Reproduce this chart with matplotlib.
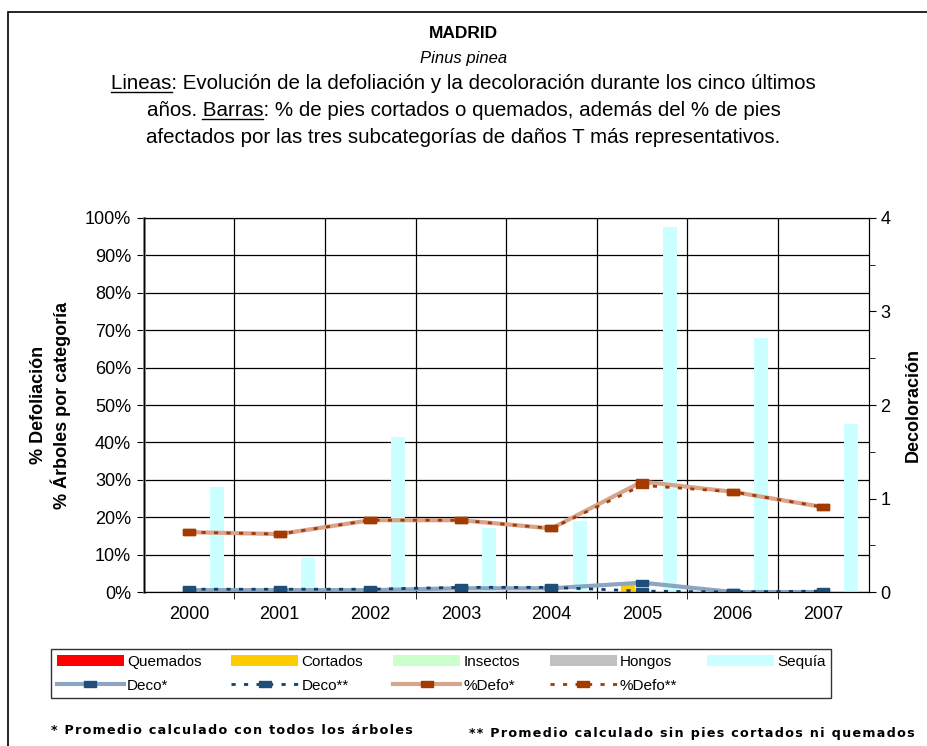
import numpy as np
import matplotlib
matplotlib.use("Agg")
import matplotlib.pyplot as plt
from matplotlib.patches import Rectangle
from matplotlib.lines import Line2D

plt.rcParams['font.family'] = ['Liberation Sans', 'DejaVu Sans']

# data
years = ['2000', '2001', '2002', '2003', '2004', '2005', '2006', '2007']
quemados = [0, 0, 0, 0, 0, 0, 0, 0]
cortados = [0, 0, 0, 0, 0, 2.2, 0, 0]
insectos = [0, 0, 0, 0, 2.0, 0, 0, 0]
hongos = [0, 0, 0, 0, 0, 0, 0, 0]
sequia = [28, 9, 41.5, 17, 19, 97.5, 68, 45]
deco_all = [0.02, 0.02, 0.02, 0.04, 0.04, 0.10, 0.0, 0.0]
deco_sin = [0.03, 0.03, 0.03, 0.05, 0.05, 0.01, 0.0, 0.01]
defo_all = [16, 15.5, 19.2, 19.2, 17, 29.5, 26.8, 22.7]
defo_sin = [16, 15.5, 19.2, 19.2, 17, 28.5, 26.8, 22.7]

fig = plt.figure(figsize=(9.27, 7.46), dpi=100)
ax = fig.add_axes([0.155, 0.2064, 0.782, 0.5014])
ax2 = ax.twinx()

x = np.arange(len(years))
w = 0.155
bar_series = [(quemados, '#FF0000', 'Quemados'), (cortados, '#FFCC00', 'Cortados'),
              (insectos, '#CCFFCC', 'Insectos'), (hongos, '#C0C0C0', 'Hongos'),
              (sequia, '#CCFFFF', 'Sequía')]
bars = []
for k, (vals, col, lab) in enumerate(bar_series):
    b = ax.bar(x + (k - 2) * w, vals, width=w, color=col, label=lab, zorder=2)
    bars.append(b)

rect = [(-1, -0.45), (1, -0.45), (1, 0.45), (-1, 0.45), (-1, -0.45)]
l_defo1, = ax.plot(x, defo_all, color='#D8A48E', lw=3, marker=rect, ms=9,
                   mfc='#A33A00', mec='#A33A00', label='%Defo*', zorder=4)
l_defo2, = ax.plot(x, defo_sin, color='#A33A00', lw=2, ls=(0, (1.5, 3)), marker=rect, ms=9,
                   mfc='#A33A00', mec='#A33A00', label='%Defo**', zorder=5)
l_deco1, = ax2.plot(x, deco_all, color='#8CA5C0', lw=3, marker=rect, ms=9,
                    mfc='#1F4E79', mec='#1F4E79', label='Deco*')
l_deco2, = ax2.plot(x, deco_sin, color='#123E6B', lw=2, ls=(0, (1.5, 3)), marker=rect, ms=9,
                    mfc='#1F4E79', mec='#1F4E79', label='Deco**')

ax.set_xlim(-0.5, 7.5)
ax.set_ylim(0, 100)
ax.set_yticks(np.arange(0, 101, 10))
ax.set_yticklabels([f'{v}%' for v in range(0, 101, 10)], fontsize=13)
ax.set_xticks(x)
ax.set_xticklabels(years, fontsize=13)
ax.set_xticks(np.arange(0.5, 7.5, 1), minor=True)
ax.tick_params(axis='x', which='major', length=0, pad=10)
ax.tick_params(axis='x', which='minor', length=5)
ax.tick_params(axis='y', length=5, pad=4)
ax.grid(axis='y', color='black', lw=0.9, zorder=1)
ax.grid(axis='x', which='minor', color='black', lw=0.9, zorder=1)
ax.set_axisbelow(True)
ax.spines['left'].set_color('#808080')
ax.spines['left'].set_linewidth(2)
ax.set_ylabel('% Defoliación\n% Árboles por categoría', fontsize=13, fontweight='bold', labelpad=10)

ax2.set_ylim(0, 4)
ax2.set_yticks([0, 1, 2, 3, 4])
ax2.set_yticks(np.arange(0.5, 4, 1), minor=True)
ax2.tick_params(axis='y', labelsize=13, length=5)
ax2.tick_params(axis='y', which='minor', length=4)
ax2.set_ylabel('Decoloración', fontsize=13, fontweight='bold', labelpad=10)

# titles
fig.text(0.5, 0.955, 'MADRID', ha='center', va='center', fontsize=12.5, fontweight='bold')
fig.text(0.5, 0.922, 'Pinus pinea', ha='center', va='center', fontsize=12, style='italic')
t_lines = ['Lineas: Evolución de la defoliación y la decoloración durante los cinco últimos',
           'años. Barras: % de pies cortados o quemados, además del % de pies',
           'afectados por las tres subcategorías de daños T más representativos.']
underlined = [('', 'Lineas'), ('años. ', 'Barras')]
tfs = 14.8
renderer = fig.canvas.get_renderer()
for i, t in enumerate(t_lines):
    y = 0.888 - i * 0.036
    txt = fig.text(0.5, y, t, ha='center', va='center', fontsize=tfs)
    if i < 2:
        pre, word = underlined[i]
        bb = txt.get_window_extent(renderer)
        x0 = bb.x0
        if pre:
            tmp = fig.text(0, 0, pre + 'x', fontsize=tfs)
            tmpx = fig.text(0, 0, 'x', fontsize=tfs)
            x0 += tmp.get_window_extent(renderer).width - tmpx.get_window_extent(renderer).width
            tmp.remove()
            tmpx.remove()
        tw = fig.text(0, 0, word, fontsize=tfs)
        ww = tw.get_window_extent(renderer).width
        tw.remove()
        yl = bb.y0 + 1
        fig.add_artist(Line2D([x0 / fig.bbox.width, (x0 + ww) / fig.bbox.width],
                              [yl / fig.bbox.height] * 2, transform=fig.transFigure,
                              color='black', lw=1))

handles = [bars[0], l_deco1, bars[1], l_deco2, bars[2], l_defo1, bars[3], l_defo2, bars[4]]
labels = [h.get_label() for h in handles]
leg = fig.legend(handles, labels, ncol=5, loc='upper left', mode='expand',
                 bbox_to_anchor=(0.047, 0.14, 0.858, 0.0),
                 bbox_transform=fig.transFigure, fontsize=11, frameon=True, fancybox=False,
                 edgecolor='black', handlelength=4.4, handleheight=0.8, handletextpad=0.2,
                 columnspacing=1.4, borderpad=0.35, labelspacing=0.65)
leg.get_frame().set_linewidth(1)

hs = '\u200a'
fig.text(0.055, 0.021, hs.join('* Promedio calculado con todos los árboles'), fontsize=9.2,
         fontweight='bold', ha='left', va='center', family=['DejaVu Sans'])
fig.text(0.987, 0.017, hs.join('** Promedio calculado sin pies cortados ni quemados'), fontsize=9.2,
         fontweight='bold', ha='right', va='center', family=['DejaVu Sans'])

fig.patches.append(Rectangle((0.009, -0.05), 1.2, 1.034, transform=fig.transFigure,
                             fill=False, edgecolor='black', lw=1.2))

fig.savefig('out.png', dpi=100)
